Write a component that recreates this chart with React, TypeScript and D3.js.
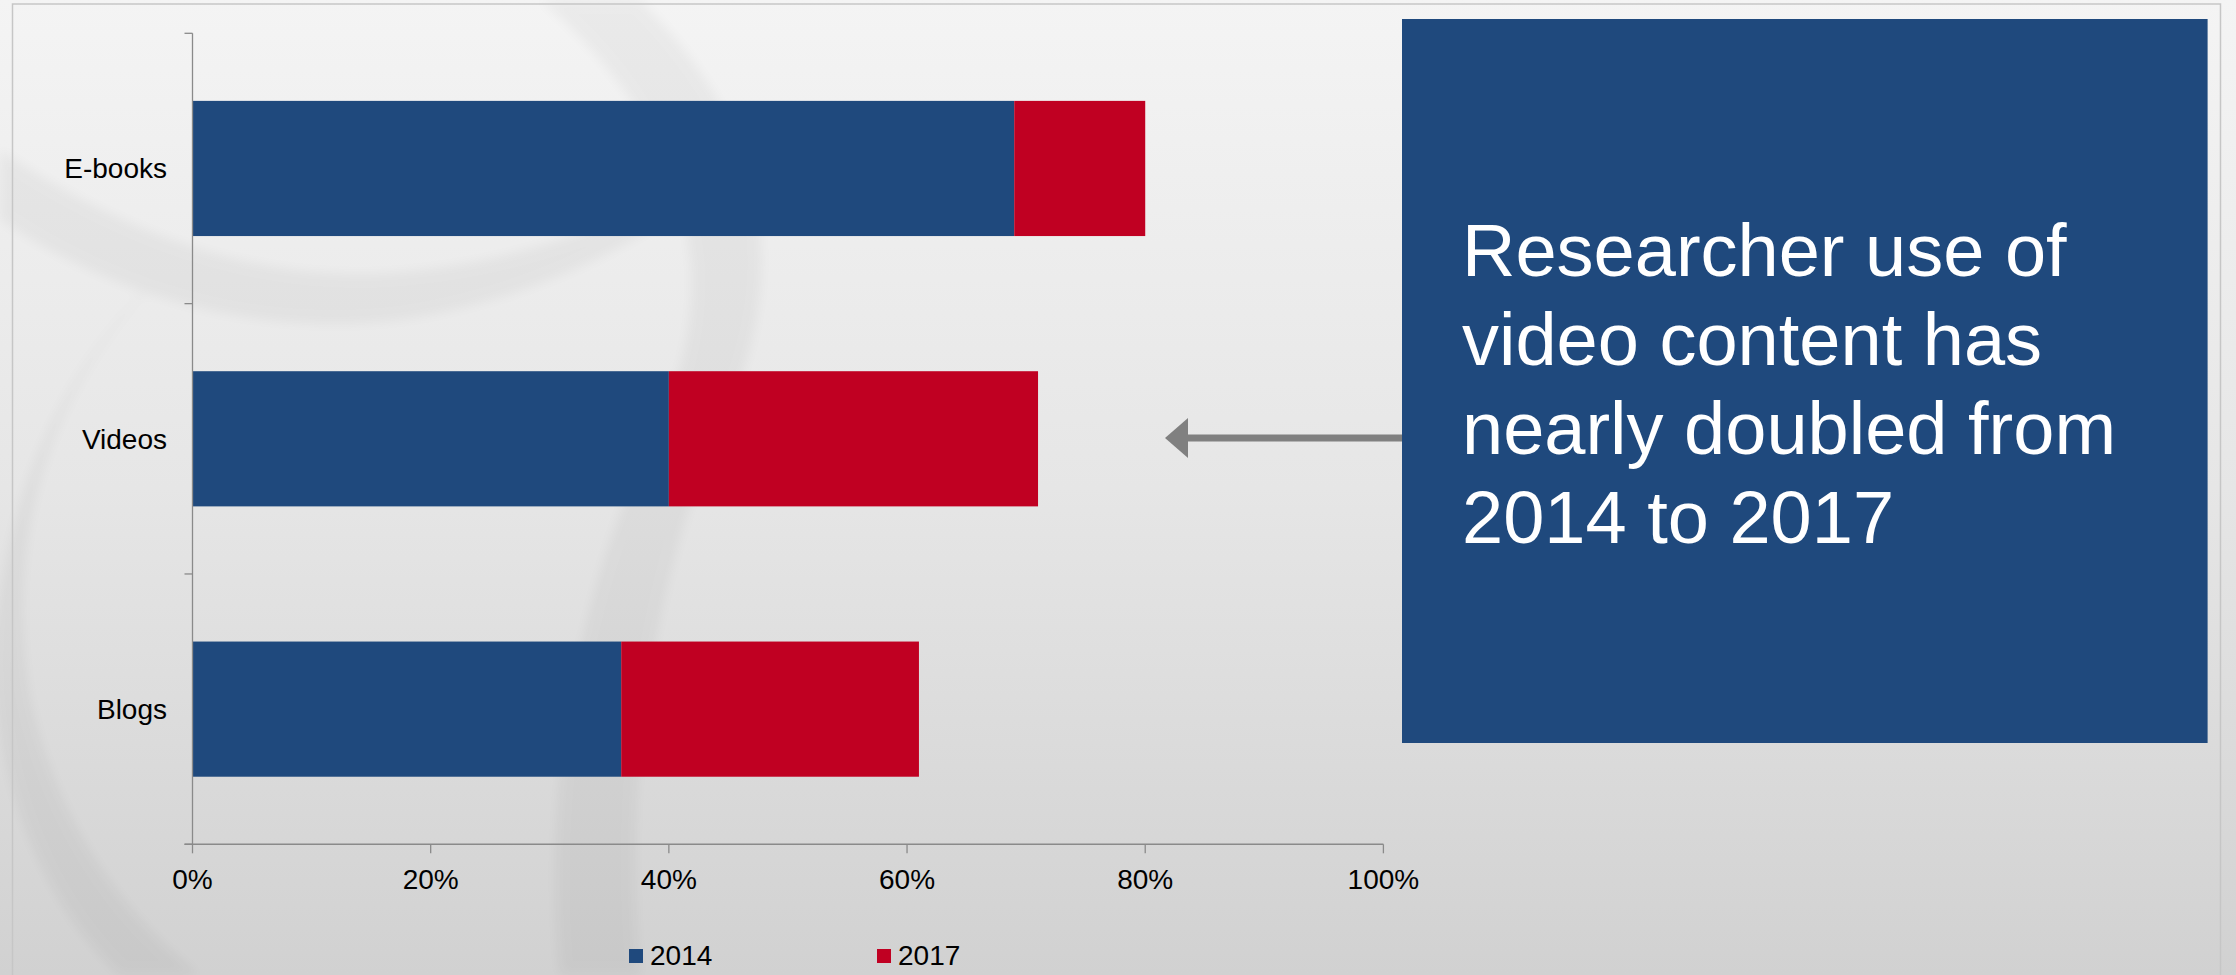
import React from "react";
import * as d3 from "d3";

const categories = ["E-books", "Videos", "Blogs"];
const values2014 = [69, 40, 36];
const values2017 = [11, 31, 25]; // stacked increment reaching 80, 71, 61
const xTicks = [0, 20, 40, 60, 80, 100];
const seriesNames = ["2014", "2017"];
const calloutLines = ["Researcher use of", "video content has", "nearly doubled from", "2014 to 2017"];

const W = 2236;
const H = 975;
const BLUE = "#1f497d";
const RED = "#c00022";
const FONT = "'Liberation Sans', Arial, sans-serif";

export default function App() {
  const x = d3.scaleLinear().domain([0, 100]).range([192.5, 1383.4]);
  const y = d3.scaleBand<string>().domain(categories).range([33.3, 844.3]).paddingInner(0.5).paddingOuter(0.25);
  const x0 = x(0);
  const yBottom = 844.3;
  const yTop = 33.3;
  const step = y.step();
  const boundaries = d3.range(categories.length + 1).map((i) => yTop + i * step);

  const stack = categories.map((c, i) => ({
    cat: c,
    segs: [
      { s: 0, a: 0, b: values2014[i] },
      { s: 1, a: values2014[i], b: values2014[i] + values2017[i] },
    ],
  }));
  const colors = [BLUE, RED];

  return (
    <svg width={W} height={H} style={{ position: "absolute", left: 0, top: 0, display: "block" }} fontFamily={FONT}>
      <defs>
        <linearGradient id="bg" x1="0" y1="0" x2="0" y2="1">
          <stop offset="0" stopColor="#f4f4f4" />
          <stop offset="0.5" stopColor="#e6e6e6" />
          <stop offset="1" stopColor="#d1d1d1" />
        </linearGradient>
        <filter id="soft" x="-10%" y="-10%" width="120%" height="120%">
          <feGaussianBlur stdDeviation="6" />
        </filter>
      </defs>
      <rect x={0} y={0} width={W} height={H} fill="url(#bg)" />
      {/* watermark swooshes */}
      <g fill="#000" opacity={0.035} filter="url(#soft)">
        <path d="M 0 150 C 120 230 260 290 420 270 C 560 255 700 190 760 140 C 680 230 540 300 400 320 C 230 340 90 280 0 220 Z" />
        <path d="M 540 0 L 640 0 C 760 120 800 260 720 430 C 660 560 620 760 640 975 L 560 975 C 540 760 590 560 660 420 C 730 270 680 120 540 0 Z" />
        <path d="M 190 250 C 60 360 0 520 30 700 C 60 840 140 930 200 975 L 120 975 C 40 900 -20 760 0 600 C 20 440 100 320 190 250 Z" />
      </g>
      {/* slide frame */}
      <rect x={12.5} y={4} width={2208} height={H} fill="none" stroke="#c6c6c6" strokeWidth={1.5} />

      {/* bars */}
      {stack.map((d) =>
        d.segs.map((s) => (
          <rect
            key={d.cat + s.s}
            x={x(s.a)}
            y={y(d.cat)}
            width={x(s.b) - x(s.a)}
            height={y.bandwidth()}
            fill={colors[s.s]}
          />
        ))
      )}

      {/* y axis */}
      <line x1={x0} x2={x0} y1={yTop} y2={yBottom} stroke="#8a8a8a" strokeWidth={1.3} />
      {boundaries.map((b, i) => (
        <line key={i} x1={x0 - 8} x2={x0} y1={b} y2={b} stroke="#8a8a8a" strokeWidth={1.3} />
      ))}
      {categories.map((c) => (
        <text key={c} x={167} y={(y(c) as number) + y.bandwidth() / 2 + 10} textAnchor="end" fontSize={28} fill="#000">
          {c}
        </text>
      ))}

      {/* x axis */}
      <line x1={x0 - 8} x2={x(100)} y1={yBottom} y2={yBottom} stroke="#8a8a8a" strokeWidth={1.5} />
      {xTicks.map((t) => (
        <g key={t}>
          <line x1={x(t)} x2={x(t)} y1={yBottom} y2={yBottom + 9} stroke="#8a8a8a" strokeWidth={1.3} />
          <text x={x(t)} y={889} textAnchor="middle" fontSize={28} fill="#000">
            {t}%
          </text>
        </g>
      ))}

      {/* legend */}
      {seriesNames.map((n, i) => {
        const lx = [629, 877][i];
        return (
          <g key={n}>
            <rect x={lx} y={949} width={14} height={14} fill={colors[i]} />
            <text x={lx + 21} y={965} fontSize={28} fill="#000">
              {n}
            </text>
          </g>
        );
      })}

      {/* arrow */}
      <line x1={1185} x2={1402} y1={438} y2={438} stroke="#808080" strokeWidth={7} />
      <path d="M 1165 438 L 1188 418 L 1188 458 Z" fill="#808080" />

      {/* callout box */}
      <rect x={1402} y={19} width={805.6} height={724} fill={BLUE} />
      {calloutLines.map((l, i) => (
        <text key={i} x={1462} y={275.5 + i * 89.2} fontSize={74} fill="#fff">
          {l}
        </text>
      ))}
    </svg>
  );
}
